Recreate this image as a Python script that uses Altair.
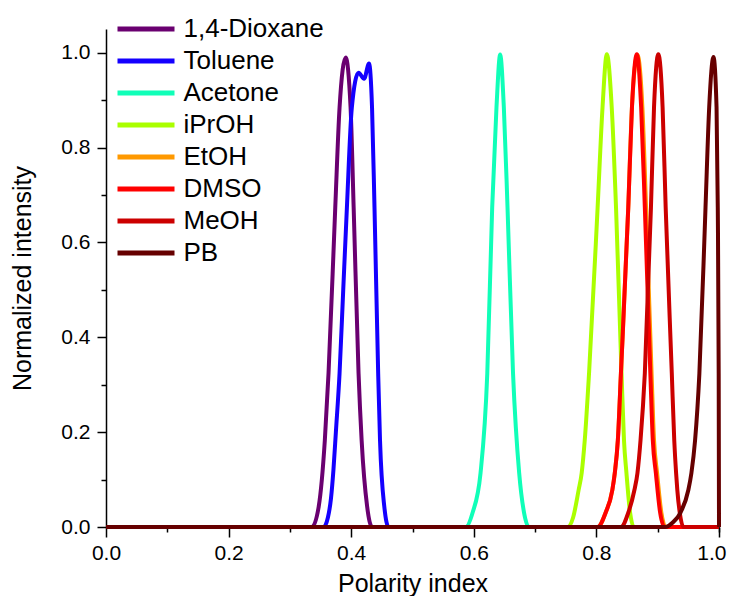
import altair as alt
import pandas as pd

FONT = "Liberation Sans"

names = ["1,4-Dioxane", "Toluene", "Acetone", "iPrOH", "EtOH", "DMSO", "MeOH", "PB"]
colors = ["#6a0070", "#1400ff", "#10ffb8", "#aaff00", "#ff9900", "#ff0000", "#cc0000", "#660000"]

dioxane_x = [0.0, 0.336, 0.347, 0.357, 0.363, 0.374, 0.381, 0.391, 0.399, 0.404, 0.412, 0.417, 0.426, 0.434, 1.0]
dioxane_y = [0, 0, 0.043, 0.183, 0.324, 0.674, 0.884, 0.990, 0.884, 0.674, 0.324, 0.183, 0.043, 0, 0]

toluene_x = [0.0, 0.355, 0.362, 0.367, 0.371, 0.375, 0.381, 0.387, 0.393, 0.401, 0.412, 0.421, 0.429, 0.434, 0.438, 0.444, 0.447, 0.454, 0.461, 1.0]
toluene_y = [0, 0, 0.02, 0.06, 0.12, 0.2, 0.324, 0.5, 0.674, 0.884, 0.958, 0.945, 0.977, 0.884, 0.674, 0.324, 0.183, 0.043, 0, 0]

acetone_x = [0.0, 0.587, 0.598, 0.611, 0.622, 0.630, 0.637, 0.643, 0.649, 0.655, 0.664, 0.674, 0.682, 0.690, 1.0]
acetone_y = [0, 0, 0.03, 0.114, 0.324, 0.674, 0.885, 0.996, 0.885, 0.674, 0.324, 0.114, 0.03, 0, 0]

iproh_x = [0.0, 0.753, 0.762, 0.771, 0.776, 0.781, 0.788, 0.802, 0.810, 0.817, 0.825, 0.832, 0.841, 0.845, 0.849, 0.855, 0.861, 1.0]
iproh_y = [0, 0, 0.02, 0.078, 0.114, 0.183, 0.324, 0.674, 0.885, 0.997, 0.885, 0.674, 0.324, 0.183, 0.114, 0.03, 0, 0]

etoh_x = [0.0, 0.802, 0.815, 0.826, 0.830, 0.835, 0.840, 0.852, 0.858, 0.867, 0.875, 0.881, 0.890, 0.894, 0.899, 0.906, 0.913, 1.0]
etoh_y = [0, 0, 0.03, 0.078, 0.114, 0.183, 0.324, 0.674, 0.885, 0.995, 0.885, 0.674, 0.324, 0.183, 0.114, 0.03, 0, 0]

dmso_x = [0.0, 0.802, 0.815, 0.826, 0.830, 0.835, 0.840, 0.852, 0.858, 0.866, 0.873, 0.879, 0.888, 0.892, 0.897, 0.904, 0.911, 1.0]
dmso_y = [0, 0, 0.03, 0.078, 0.114, 0.183, 0.324, 0.674, 0.885, 0.997, 0.885, 0.674, 0.324, 0.183, 0.114, 0.03, 0, 0]

meoh_x = [0.0, 0.840, 0.852, 0.862, 0.867, 0.872, 0.879, 0.889, 0.894, 0.901, 0.908, 0.913, 0.923, 0.927, 0.930, 0.932, 0.936, 0.942, 1.0]
meoh_y = [0, 0, 0.03, 0.078, 0.114, 0.183, 0.324, 0.674, 0.885, 0.997, 0.885, 0.674, 0.324, 0.183, 0.114, 0.078, 0.03, 0, 0]

pb_x = [0.0, 0.912, 0.925, 0.937, 0.950, 0.955, 0.961, 0.968, 0.978, 0.984, 0.991, 0.996, 0.998, 0.9995, 1.0]
pb_y = [0, 0, 0.01, 0.03, 0.078, 0.114, 0.183, 0.324, 0.674, 0.885, 0.991, 0.885, 0.674, 0.324, 0]

x_major_ticks = [0.0, 0.2, 0.4, 0.6, 0.8, 1.0]
x_minor_ticks = [0.1, 0.3, 0.5, 0.7, 0.9, 1.0]
y_major_ticks = [0.0, 0.2, 0.4, 0.6, 0.8, 1.0]
y_minor_ticks = [0.1, 0.3, 0.5, 0.7, 0.9]

series = [
    (dioxane_x, dioxane_y), (toluene_x, toluene_y), (acetone_x, acetone_y),
    (iproh_x, iproh_y), (etoh_x, etoh_y), (dmso_x, dmso_y),
    (meoh_x, meoh_y), (pb_x, pb_y),
]

rows = []
for name, (xs, ys) in zip(names, series):
    for a, b in zip(xs, ys):
        rows.append({"solvent": name, "x": a, "y": b})
df = pd.DataFrame(rows)

xscale = alt.Scale(domain=[0, 1], nice=False, zero=False)
yscale = alt.Scale(domain=[0, 1.05], nice=False)

common = dict(domainColor="black", domainWidth=1.5, tickColor="black", tickWidth=1.5,
              labelFont=FONT, labelFontSize=21, labelColor="black",
              titleFont=FONT, titleFontSize=25, titleColor="black",
              titleFontWeight="normal", grid=False, labelFlush=False)

x_axis = alt.Axis(values=x_major_ticks, format=".1f", tickSize=10, labelPadding=5,
                  labelExpr="datum.value >= 1 ? '' : datum.label",
                  title="Polarity index", titlePadding=8, orient="bottom", **common)
y_axis = alt.Axis(values=y_major_ticks, format=".1f", tickSize=9, labelPadding=7,
                  title="Normalized intensity", titlePadding=25, orient="left", **common)

legend = alt.Legend(title=None, orient="none", legendX=27, legendY=-13, padding=0,
                    symbolType="M-3,0H3", symbolSize=361, symbolStrokeWidth=5,
                    labelFont=FONT, labelFontSize=26, labelColor="black",
                    labelOffset=24.5, rowPadding=6)

lines = alt.Chart(df).mark_line(strokeWidth=4, interpolate="monotone").encode(
    x=alt.X("x:Q", scale=xscale, axis=x_axis),
    y=alt.Y("y:Q", scale=yscale, axis=y_axis),
    color=alt.Color("solvent:N", scale=alt.Scale(domain=names, range=colors), legend=legend),
)

minor = alt.Chart(df).mark_line(opacity=0).encode(
    x=alt.X("x:Q", scale=xscale,
            axis=alt.Axis(values=x_minor_ticks, format=".1f", tickSize=5, labelPadding=10,
                          labelExpr="datum.value >= 1 ? datum.label : ''",
                          labelAlign="right", labelOffset=7, labelFlush=False,
                          labelFont=FONT, labelFontSize=21, labelColor="black",
                          domain=False, title=None, orient="bottom",
                          tickColor="black", tickWidth=1.5, grid=False)),
    y=alt.Y("y:Q", scale=yscale,
            axis=alt.Axis(values=y_minor_ticks, tickSize=5, labels=False, domain=False,
                          title=None, orient="left", tickColor="black", tickWidth=1.5, grid=False)),
    detail="solvent:N",
)

chart = alt.layer(lines, minor).resolve_axis(x="independent", y="independent").properties(
    width=613, height=498,
    padding={"left": 98, "top": 21, "right": 8, "bottom": 69},
    autosize=alt.AutoSizeParams(type="none"),
).configure_view(stroke=None)

chart.save("out.html", embed_options={"renderer": "svg", "actions": False})
